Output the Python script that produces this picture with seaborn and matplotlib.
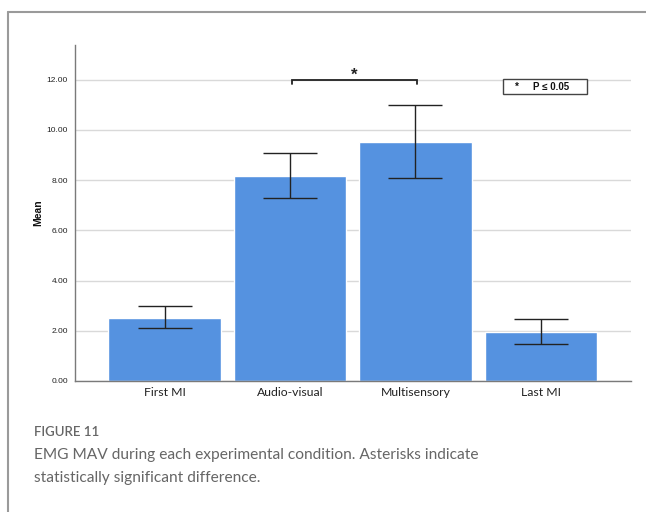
import matplotlib
matplotlib.use("Agg")
import matplotlib.pyplot as plt
import seaborn as sns
import pandas as pd
from matplotlib.lines import Line2D
from matplotlib.patches import Rectangle

# EMG mean absolute value per condition, with 95% CI limits
conditions = ["First MI", "Audio-visual", "Multisensory", "Last MI"]
mean_mav = [2.52, 8.18, 9.52, 1.97]
ci_lower = [2.09, 7.29, 8.08, 1.47]
ci_upper = [2.99, 9.06, 11.00, 2.47]
y_ticks = [0, 2, 4, 6, 8, 10, 12]

sns.set_theme(style="white")
plt.rcParams["font.family"] = ["Liberation Sans", "DejaVu Sans"]

df = pd.DataFrame({"condition": conditions, "mav": mean_mav})

fig = plt.figure(figsize=(6.46, 5.12), dpi=100)
ax = fig.add_axes([0.1161, 0.2559, 0.8607, 0.6562])

sns.barplot(data=df, x="condition", y="mav", color="#5592e0", saturation=1,
            width=0.896, errorbar=None, ax=ax, zorder=2)

xs = list(range(len(conditions)))
yerr = [[m - lo for m, lo in zip(mean_mav, ci_lower)],
        [hi - m for m, hi in zip(mean_mav, ci_upper)]]
ax.errorbar(xs, mean_mav, yerr=yerr, fmt="none", ecolor="#222222",
            elinewidth=1.0, capsize=19.5, capthick=1.0, zorder=3)

ax.set_xlim(-0.714, 3.719)
ax.set_ylim(0, 13.38)
ax.set_yticks(y_ticks)
ax.set_yticklabels([f"{v:.2f}" for v in y_ticks], fontsize=6, color="#222222")
ax.tick_params(axis="y", length=0, pad=5)
ax.tick_params(axis="x", length=0, pad=4)
for lab in ax.get_xticklabels():
    lab.set_fontfamily(["Lato", "DejaVu Sans"])
    lab.set_fontsize(8.8)
    lab.set_color("#222222")
ax.yaxis.grid(True, color="#d9d9d9", linewidth=1.0, zorder=0)
ax.set_axisbelow(True)
ax.set_xlabel("")
ax.set_ylabel("Mean", fontsize=7.5, fontweight="bold", labelpad=2.5, color="#111111")

for side in ["top", "right"]:
    ax.spines[side].set_visible(False)
for side in ["left", "bottom"]:
    ax.spines[side].set_color("#7a7a7a")
    ax.spines[side].set_linewidth(1.0)

# significance bracket between the two stimulation conditions
bx0, bx1, by, bdrop = 1.02, 2.01, 11.98, 0.14
ax.plot([bx0, bx0, bx1, bx1], [by - bdrop, by, by, by - bdrop],
        color="#222222", linewidth=1.3, zorder=4, solid_joinstyle="miter")
ax.text((bx0 + bx1) / 2, by - 0.1, "*", ha="center", va="bottom",
        fontsize=12, fontweight="bold", color="#222222")

# key for the asterisk
ax.add_patch(Rectangle((2.70, 11.43), 0.67, 0.59, facecolor="white",
                       edgecolor="#444444", linewidth=1.0, zorder=5))
ax.text(2.81, 11.70, "*", ha="center", va="center", fontsize=7,
        fontweight="bold", color="#111111", zorder=6)
ax.text(2.935, 11.725, "P \u2264 0.05", ha="left", va="center", fontsize=7,
        fontweight="bold", color="#111111", zorder=6)

# panel frame
fig.add_artist(Line2D([0.0124, 1.0], [0.9766, 0.9766], transform=fig.transFigure,
                      color="#9a9a9a", linewidth=1.5))
fig.add_artist(Line2D([0.0124, 0.0124], [0.0, 0.9766], transform=fig.transFigure,
                      color="#9a9a9a", linewidth=1.5))

cap_font = ["Lato", "DejaVu Sans"]
fig.text(0.0526, 0.1568, "FIGURE 11", ha="left", va="center", fontsize=9.5,
         family=cap_font, color="#666666", fontweight="semibold")
fig.text(0.0526, 0.1113, "EMG MAV during each experimental condition. Asterisks indicate",
         ha="left", va="center", fontsize=11.2, family=cap_font, color="#666666")
fig.text(0.0526, 0.0664, "statistically significant difference.",
         ha="left", va="center", fontsize=11.2, family=cap_font, color="#666666")

fig.savefig("out.png", dpi=100)
